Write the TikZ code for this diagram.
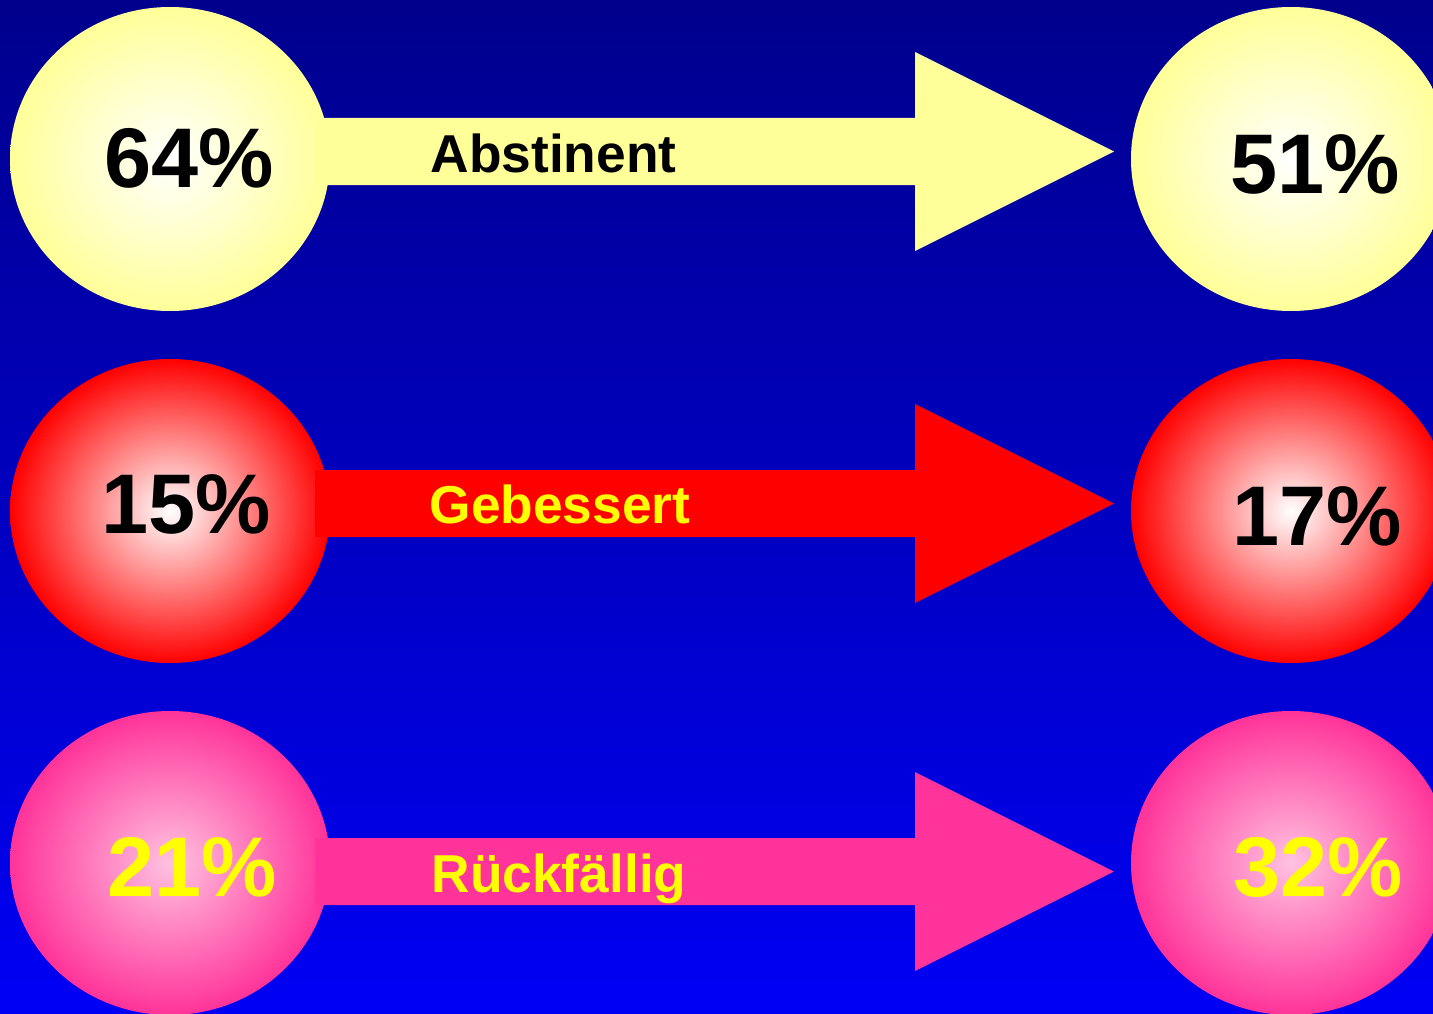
\documentclass[tikz,border=0pt]{standalone}
\usepackage{fontspec}
\setmainfont{Liberation Sans}
\usetikzlibrary{shapes.geometric}
\definecolor{bgtop}{RGB}{0,0,140}
\definecolor{bgbot}{RGB}{0,0,245}
\definecolor{pale}{RGB}{255,255,153}
\definecolor{redc}{RGB}{255,0,0}
\definecolor{pinkc}{RGB}{255,51,153}
\definecolor{yel}{RGB}{255,255,0}
\tikzset{
  ball/.style={ellipse, inner sep=0pt, outer sep=0pt, minimum width=240pt, minimum height=228pt, shading=radial},
  yball/.style={ball, inner color=white, outer color=pale},
  rball/.style={ball, inner color=white, outer color=redc},
  pball/.style={ball, inner color=pinkc!30!white, outer color=pinkc},
  pct/.style={anchor=base, font=\fontsize{63.5}{70}\selectfont\bfseries},
  lbl/.style={anchor=base, font=\fontsize{40}{44}\selectfont\bfseries},
}
\begin{document}
\begin{tikzpicture}[x=0.75pt, y=-0.75pt]
\useasboundingbox (0,0) rectangle (1433,1013);
\clip (0,0) rectangle (1433,1013);
\shade[top color=bgtop, bottom color=bgbot] (0,0) rectangle (1433,1013);
% circles
\node[yball] (l1) at (170,159) {};
\node[rball] (l2) at (170,511) {};
\node[pball] (l3) at (170,863) {};
\node[yball] (r1) at (1291,159) {};
\node[rball] (r2) at (1291,511) {};
\node[pball] (r3) at (1291,863) {};
% arrows
\fill[pale] (315,118) -- (915,118) -- (915,52) -- (1114,151.5) -- (915,251) -- (915,185) -- (315,185) -- cycle;
\fill[redc] (315,470) -- (915,470) -- (915,404) -- (1114,503.5) -- (915,603) -- (915,537) -- (315,537) -- cycle;
\fill[pinkc] (315,838) -- (915,838) -- (915,772) -- (1114,871.5) -- (915,971) -- (915,905) -- (315,905) -- cycle;
% texts
\node[pct, text=black] (t64) at (189.5,187) {64\%};
\node[pct, text=black] (t51) at (1315.5,193) {51\%};
\node[pct, text=black] (t15) at (186.5,533) {15\%};
\node[pct, text=black] (t17) at (1317,545) {17\%};
\node[pct, text=yel] (t21) at (192.5,896) {21\%};
\node[pct, text=yel] (t32) at (1318.5,896) {32\%};
\node[lbl, text=black] (a1) at (553.5,172) {Abstinent};
\node[lbl, text=yel] (a2) at (560,523) {Gebessert};
\node[lbl, text=yel] (a3) at (559,892) {Rückfällig};
\end{tikzpicture}
\end{document}
